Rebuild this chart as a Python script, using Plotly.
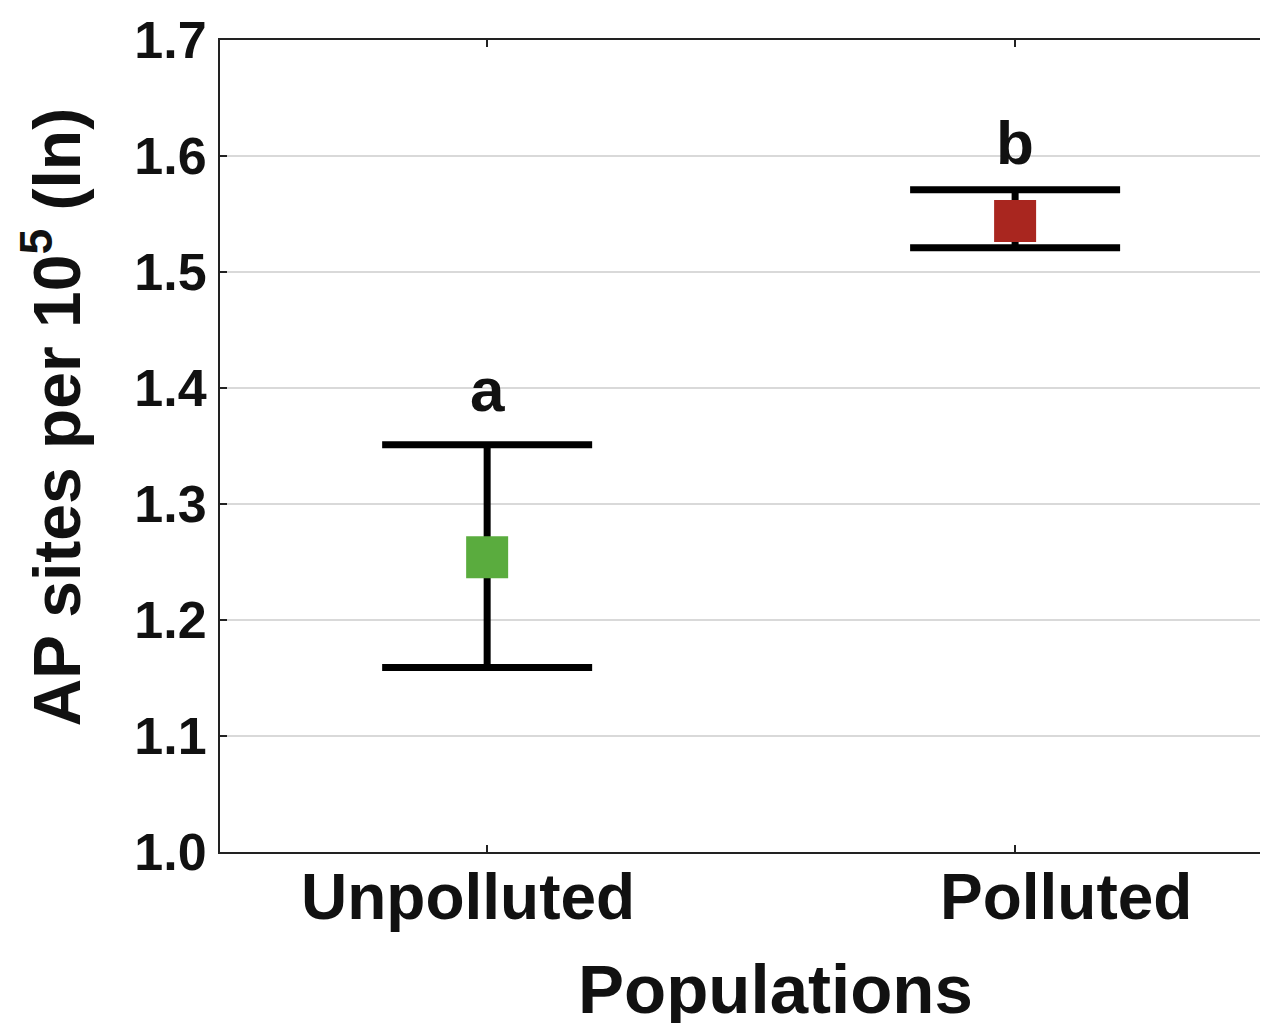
import plotly.graph_objects as go

categories = ["Unpolluted", "Polluted"]
means = [1.254, 1.544]
upper = [1.351, 1.571]
lower = [1.159, 1.521]
letters = ["a", "b"]
colors = ["#5AAC3E", "#A9261F"]
y_ticks = [1.0, 1.1, 1.2, 1.3, 1.4, 1.5, 1.6, 1.7]
y_ticklabels = ["1.0", "1.1", "1.2", "1.3", "1.4", "1.5", "1.6", "1.7"]
x_title = "Populations"
y_title = "AP sites per 10<sup>5</sup> (ln)"

FONT = "Liberation Sans, Arial, sans-serif"

err_plus = [u - m for u, m in zip(upper, means)]
err_minus = [m - l for m, l in zip(means, lower)]

fig = go.Figure()
fig.add_trace(go.Scatter(
    x=categories, y=means, mode="markers",
    marker=dict(symbol="square", size=42, color=colors, line=dict(width=0)),
    error_y=dict(type="data", array=err_plus, arrayminus=err_minus,
                 color="black", thickness=7, width=105, visible=True),
    showlegend=False, hoverinfo="skip",
))

annotations = []
# significance letters
letter_shift = {"a": 19, "b": 11}
for c, u, l in zip(categories, upper, letters):
    annotations.append(dict(x=c, y=u, xref="x", yref="y", text=l, showarrow=False,
                            yanchor="bottom", yshift=letter_shift[l],
                            font=dict(family=FONT, size=62, color="#111111", weight="bold")))
# x category labels
label_shift = {"Unpolluted": -19, "Polluted": 51}
for c in categories:
    annotations.append(dict(x=c, y=0, xref="x", yref="paper", text=c, showarrow=False,
                            yanchor="top", xshift=label_shift[c], yshift=-7,
                            font=dict(family=FONT, size=64, color="#111111", weight="bold")))
# axis titles
annotations.append(dict(x=0.53, y=0, xref="paper", yref="paper", text=x_title, showarrow=False,
                        yanchor="top", yshift=-97,
                        font=dict(family=FONT, size=69, color="#111111", weight="bold")))
annotations.append(dict(x=0, y=0.535, xref="paper", yref="paper", text=y_title, showarrow=False,
                        textangle=-90, xanchor="center", xshift=-168,
                        font=dict(family=FONT, size=66, color="#111111", weight="bold")))

fig.update_layout(
    width=1260, height=1015,
    margin=dict(l=212, r=0, t=32, b=171),
    paper_bgcolor="white", plot_bgcolor="white",
    annotations=annotations,
    xaxis=dict(type="category", range=[-0.506, 1.479], showticklabels=False,
               ticks="inside", ticklen=7, tickwidth=1.5, tickcolor="#222",
               showline=True, linecolor="#222", linewidth=2, mirror="ticks",
               showgrid=False, zeroline=False),
    yaxis=dict(range=[1.0, 1.7], tickvals=y_ticks, ticktext=y_ticklabels,
               ticks="inside", ticklen=7, tickwidth=1.5, tickcolor="#222",
               showline=True, linecolor="#222", linewidth=2, mirror=False,
               showgrid=True, gridcolor="#d9d9d9", gridwidth=1.5, zeroline=False,
               tickfont=dict(family=FONT, size=52, color="#111111", weight="bold"),
               ticklabelstandoff=1),
)

fig.write_html("out.html")
